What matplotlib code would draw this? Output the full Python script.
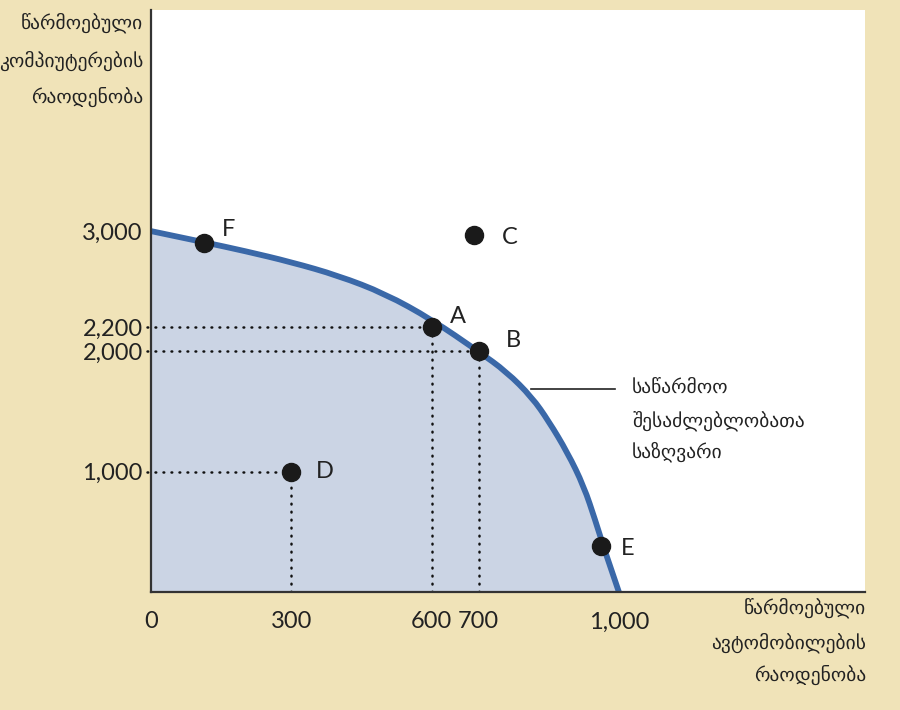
import matplotlib.pyplot as plt
from matplotlib.path import Path
from matplotlib.patches import PathPatch

# ---------- data ----------
curve_x = [0, 113, 200, 300, 400, 500, 600, 700, 760, 814, 850, 890, 925, 950, 966, 983, 1000]
curve_y = [3000, 2908, 2835, 2742, 2630, 2480, 2265, 2000, 1830, 1620, 1420, 1160, 880, 590, 390, 195, 0]

point_names = ['F', 'C', 'A', 'B', 'D', 'E']
point_x = [113, 690, 600, 700, 300, 962]
point_y = [2900, 2970, 2200, 2000, 1000, 383]

xticks = [0, 300, 600, 700, 1000]
xtick_labels = ['0', '300', '600', '700', '1,000']
yticks = [1000, 2000, 2200, 3000]
ytick_labels = ['1,000', '2,000', '2,200', '3,000']

guide_points = ['A', 'B', 'D']  # dotted guides to the axes

ylabel_lines = ['წარმოებული', 'კომპიუტერების', 'რაოდენობა']
xlabel_lines = ['წარმოებული', 'ავტომობილების', 'რაოდენობა']
ppf_lines = ['საწარმოო', 'შესაძლებლობათა', 'საზღვარი']

bg = '#F0E3B8'
fill_c = '#CBD4E4'
line_c = '#3A68A8'
latin = ['Lato', 'DejaVu Sans']
geo = ['DejaVu Sans']

W, H = 900, 710
fig = plt.figure(figsize=(9, 7.1), dpi=100, facecolor=bg)
ax = fig.add_axes([151 / W, 1 - 592 / H, (865 - 151) / W, (592 - 10) / H])
ax.set_facecolor('white')
ax.set_xlim(0, 1526)
ax.set_ylim(0, 4838)

# ---------- frontier (smooth quadratic path through the read points) ----------
pts = list(zip(curve_x, curve_y))
verts = [pts[0]]
codes = [Path.MOVETO]
for i in range(1, len(pts) - 1):
    mid = ((pts[i][0] + pts[i + 1][0]) / 2, (pts[i][1] + pts[i + 1][1]) / 2)
    if i == len(pts) - 2:
        mid = pts[-1]
    verts += [pts[i], mid]
    codes += [Path.CURVE3, Path.CURVE3]

fill_path = Path(verts + [(0, 0), (0, 0)], codes + [Path.LINETO, Path.CLOSEPOLY])
ax.add_patch(PathPatch(fill_path, facecolor=fill_c, edgecolor='none', zorder=1))
ax.add_patch(PathPatch(Path(verts, codes), facecolor='none', edgecolor=line_c,
                       lw=4.2, capstyle='butt', zorder=3))

# ---------- dotted guides ----------
for name, px, py in zip(point_names, point_x, point_y):
    if name in guide_points:
        ax.plot([-8, px], [py, py], color='#111111', lw=1.8,
                linestyle=(0, (0.3, 2.9)), dash_capstyle='round', clip_on=False, zorder=2)
        ax.plot([px, px], [0, py], color='#111111', lw=1.8,
                linestyle=(0, (0.3, 2.9)), dash_capstyle='round', zorder=2)

# ---------- points ----------
ax.plot(point_x, point_y, 'o', color='#1a1a1a', ms=13, zorder=5)
offsets = {'F': (13, 10), 'C': (20, -2), 'A': (13, 8), 'B': (20, 8), 'D': (18, 0), 'E': (14, -2)}
for name, px, py in zip(point_names, point_x, point_y):
    dx, dy = offsets[name]
    ax.annotate(name, (px, py), xytext=(dx, dy), textcoords='offset points',
                fontsize=17, family=latin, color='#222222', va='center', ha='left')

# ---------- axes ----------
for s in ['top', 'right']:
    ax.spines[s].set_visible(False)
for s in ['left', 'bottom']:
    ax.spines[s].set_color('#333333')
    ax.spines[s].set_linewidth(1.6)
    ax.spines[s].set_zorder(6)

ax.set_xticks(xticks)
ax.set_xticklabels(xtick_labels, family=latin, fontsize=17, color='#222222')
ax.set_yticks(yticks)
ax.set_yticklabels(ytick_labels, family=latin, fontsize=17, color='#222222')
ax.tick_params(axis='both', length=0)
ax.tick_params(axis='x', pad=14)
ax.tick_params(axis='y', pad=6)

# ---------- texts ----------
for i, t in enumerate(ylabel_lines):
    fig.text(143 / W, 1 - [23, 61, 97][i] / H, t, ha='right', va='center',
             family=geo, fontsize=14, color='#222222')
for i, t in enumerate(xlabel_lines):
    fig.text(866 / W, 1 - [608, 643, 675][i] / H, t, ha='right', va='center',
             family=geo, fontsize=14, color='#222222')
for i, t in enumerate(ppf_lines):
    fig.text(632 / W, 1 - [387, 421, 452][i] / H, t, ha='left', va='center',
             family=geo, fontsize=14, color='#222222')
fig.add_artist(plt.Line2D([531 / W, 615 / W], [1 - 389 / H, 1 - 389 / H],
                          color='#222222', lw=1.2))

fig.savefig('out.png', dpi=100, facecolor=bg)
